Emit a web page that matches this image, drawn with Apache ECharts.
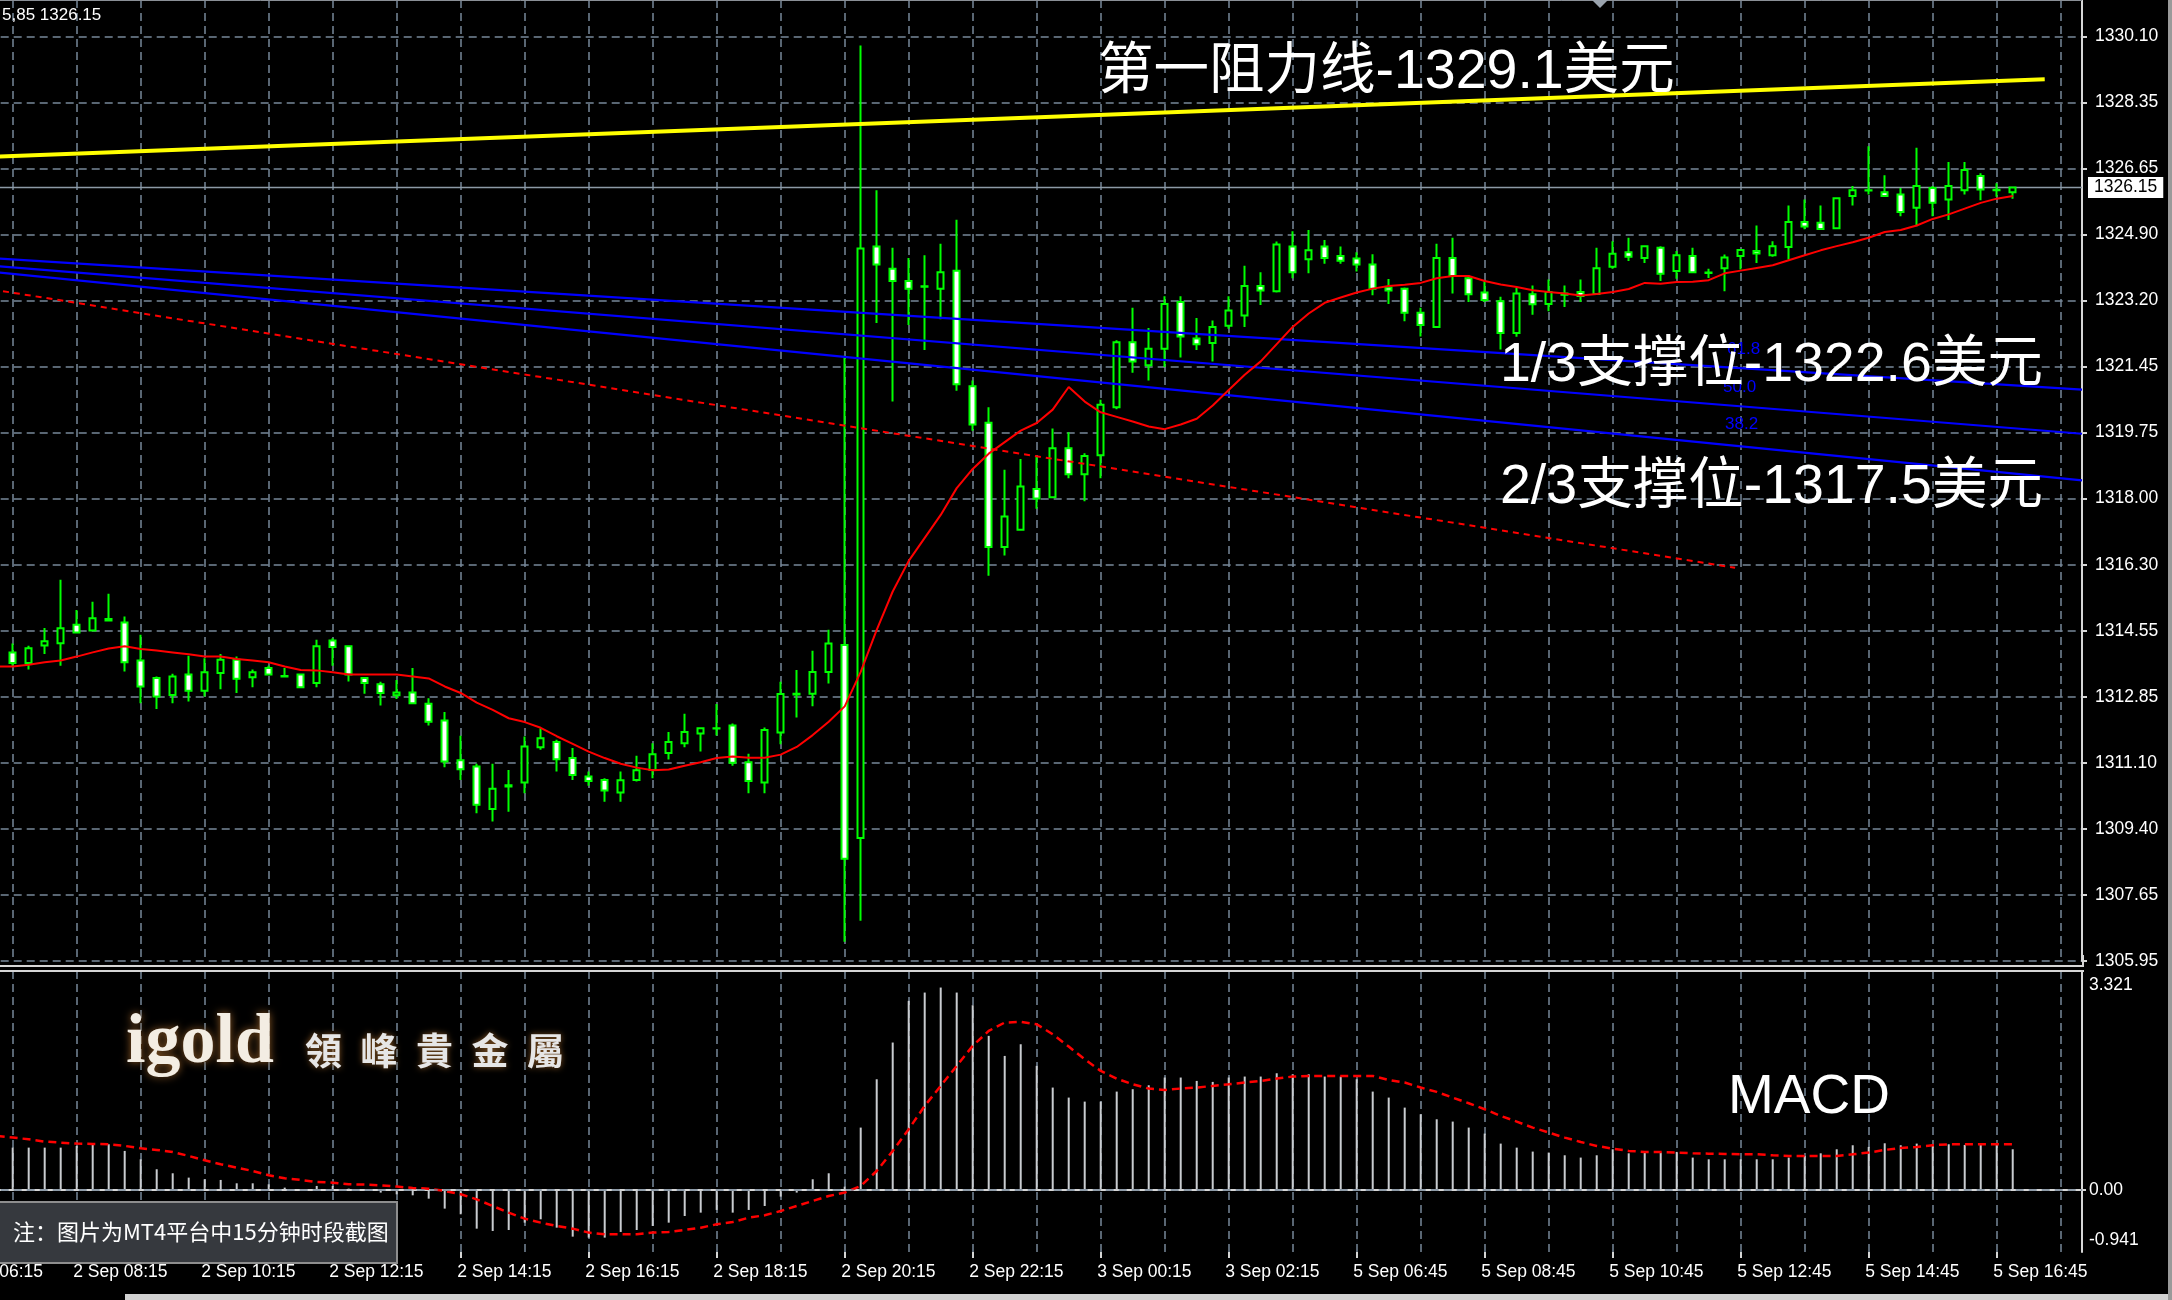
<!DOCTYPE html>
<html>
<head>
<meta charset="utf-8">
<script src="https://cdn.jsdelivr.net/npm/echarts@6/dist/echarts.min.js"></script>
<style>
html,body{margin:0;padding:0;background:#000;}
#chart{width:2172px;height:1300px;}
</style>
</head>
<body>
<div id="chart"></div>
<script>
// ---------------- DATA ----------------
// 15-minute bars, bar index 0 = 2 Sep 07:15
const opens = [1314.01,1313.73,1314.19,1314.25,1314.73,1314.58,1314.84,1314.79,1313.80,1313.34,
 1312.90,1313.43,1313.01,1313.47,1313.82,1313.36,1313.60,1313.39,1313.43,1313.21,
 1314.32,1314.17,1313.34,1313.18,1312.89,1312.96,1312.67,1312.23,1311.19,1311.03,
 1309.92,1310.51,1310.61,1311.53,1311.67,1311.25,1310.77,1310.68,1310.35,1310.68,
 1310.94,1311.38,1311.64,1311.89,1312.02,1312.10,1311.14,1310.61,1311.92,1312.91,
 1312.93,1313.50,1314.20,1309.16,1324.61,1324.03,1323.71,1323.56,1323.51,1323.98,
 1320.96,1320.01,1316.76,1317.21,1318.28,1318.06,1319.34,1318.66,1319.16,1320.41,
 1322.11,1321.51,1321.94,1323.16,1322.21,1322.09,1322.54,1322.81,1323.58,1323.44,
 1324.61,1324.28,1324.61,1324.36,1324.30,1324.14,1323.54,1323.51,1322.88,1322.51,
 1324.31,1323.78,1323.41,1323.18,1322.35,1323.36,1323.11,1323.35,1323.42,1323.37,
 1324.08,1324.46,1324.31,1324.58,1323.97,1324.36,1323.93,1324.04,1324.36,1324.49,
 1324.38,1324.60,1325.25,1325.23,1325.09,1325.93,1326.07,1326.03,1325.97,1325.62,
 1326.14,1325.84,1326.08,1326.45,1326.08,1326.03];
const closes = [1313.73,1314.12,1314.30,1314.64,1314.53,1314.90,1314.88,1313.75,1313.12,1312.86,
 1313.38,1313.01,1313.49,1313.82,1313.32,1313.49,1313.43,1313.38,1313.10,1314.17,
 1314.15,1313.43,1313.21,1312.95,1312.96,1312.68,1312.20,1311.16,1310.96,1310.03,
 1310.45,1310.54,1311.55,1311.77,1311.22,1310.81,1310.65,1310.40,1310.67,1310.93,
 1311.35,1311.67,1311.93,1312.03,1312.03,1311.13,1310.65,1311.98,1312.92,1312.93,
 1313.50,1314.24,1308.62,1324.56,1324.14,1323.71,1323.51,1323.57,1323.94,1321.01,
 1319.96,1316.76,1317.56,1318.34,1318.03,1319.34,1318.66,1319.14,1320.48,1322.11,
 1321.61,1321.94,1323.11,1322.26,1322.06,1322.51,1322.94,1323.58,1323.46,1324.66,
 1323.94,1324.51,1324.31,1324.24,1324.14,1323.51,1323.46,1322.88,1322.56,1324.31,
 1323.84,1323.36,1323.21,1322.35,1323.38,1323.10,1323.42,1323.38,1323.32,1324.04,
 1324.42,1324.34,1324.62,1323.90,1324.38,1323.94,1323.92,1324.32,1324.52,1324.43,
 1324.62,1325.25,1325.13,1325.07,1325.87,1326.08,1326.08,1325.93,1325.51,1326.19,
 1325.75,1326.19,1326.61,1326.10,1326.09,1326.15];
const lows = [1313.66,1313.56,1313.97,1313.66,1314.50,1314.56,1314.83,1313.51,1312.68,1312.53,
 1312.68,1312.73,1312.86,1313.05,1312.95,1313.10,1313.41,1313.36,1313.09,1313.10,
 1313.66,1313.25,1312.93,1312.62,1312.79,1312.66,1312.10,1311.01,1310.68,1309.81,
 1309.59,1309.85,1310.33,1311.47,1310.90,1310.68,1310.53,1310.11,1310.11,1310.64,
 1310.72,1311.21,1311.53,1311.42,1311.84,1311.05,1310.33,1310.33,1311.61,1312.31,
 1312.60,1313.20,1306.45,1307.00,1322.61,1320.56,1322.56,1321.91,1322.71,1320.84,
 1319.80,1316.01,1316.54,1317.21,1317.76,1318.06,1318.56,1317.96,1318.56,1320.36,
 1321.31,1321.11,1321.46,1321.71,1321.91,1321.61,1322.46,1322.51,1323.08,1323.41,
 1323.78,1323.91,1324.16,1324.16,1323.96,1323.34,1323.11,1322.66,1322.26,1322.51,
 1323.38,1323.16,1323.16,1321.92,1322.25,1322.83,1322.92,1323.03,1323.16,1323.36,
 1324.03,1324.23,1324.18,1323.71,1323.77,1323.91,1323.79,1323.44,1324.01,1324.18,
 1324.34,1324.27,1325.06,1325.04,1325.09,1325.68,1325.97,1325.91,1325.40,1325.14,
 1325.40,1325.30,1325.97,1325.82,1325.91,1325.86];
const highs = [1314.24,1314.18,1314.65,1315.91,1315.12,1315.33,1315.54,1314.95,1314.47,1313.38,
 1313.45,1313.92,1313.86,1313.97,1313.90,1313.56,1313.66,1313.60,1313.45,1314.34,
 1314.38,1314.18,1313.36,1313.24,1313.29,1313.60,1312.81,1312.45,1311.83,1311.10,
 1311.10,1310.94,1311.81,1312.03,1311.73,1311.51,1310.90,1310.72,1310.90,1311.31,
 1311.64,1311.93,1312.41,1312.05,1312.66,1312.15,1311.36,1312.05,1313.24,1313.55,
 1314.05,1314.60,1321.76,1329.86,1326.08,1324.58,1324.31,1324.38,1324.68,1325.31,
 1321.11,1320.41,1318.78,1319.06,1319.11,1319.86,1319.76,1319.21,1320.61,1322.16,
 1323.01,1322.48,1323.31,1323.31,1322.74,1322.68,1323.31,1324.11,1323.94,1324.74,
 1325.01,1325.04,1324.78,1324.61,1324.46,1324.41,1323.76,1323.54,1323.01,1324.68,
 1324.84,1323.86,1323.71,1323.30,1323.53,1323.59,1323.75,1323.59,1323.75,1324.58,
 1324.75,1324.84,1324.64,1324.62,1324.49,1324.58,1324.03,1324.40,1324.53,1325.16,
 1324.75,1325.68,1325.84,1325.68,1325.87,1326.19,1327.23,1326.47,1326.14,1327.19,
 1326.19,1326.82,1326.82,1326.52,1326.26,1326.17];

// moving average, starts at bar index -1
const maFirstIndex = -1;
const maValues = [1313.64,1313.64,1313.69,1313.75,1313.80,1313.90,1314.01,1314.11,1314.17,1314.10,
 1314.06,1314.01,1313.96,1313.90,1313.90,1313.84,1313.80,1313.75,1313.64,1313.55,
 1313.54,1313.49,1313.43,1313.43,1313.43,1313.43,1313.38,1313.33,1313.12,1312.95,
 1312.70,1312.51,1312.29,1312.19,1312.04,1311.82,1311.62,1311.42,1311.25,1311.10,
 1311.00,1310.93,1310.95,1311.05,1311.14,1311.25,1311.29,1311.26,1311.26,1311.34,
 1311.54,1311.85,1312.20,1312.60,1313.50,1314.60,1315.60,1316.40,1317.00,1317.60,
 1318.30,1318.80,1319.20,1319.50,1319.80,1320.00,1320.35,1320.94,1320.56,1320.28,
 1320.16,1320.04,1319.91,1319.84,1319.96,1320.11,1320.46,1320.86,1321.26,1321.61,
 1322.06,1322.51,1322.86,1323.14,1323.28,1323.41,1323.51,1323.58,1323.61,1323.66,
 1323.78,1323.84,1323.84,1323.71,1323.62,1323.55,1323.47,1323.42,1323.38,1323.33,
 1323.37,1323.42,1323.50,1323.66,1323.64,1323.68,1323.69,1323.73,1323.91,1323.98,
 1324.05,1324.12,1324.25,1324.38,1324.51,1324.62,1324.72,1324.84,1324.99,1325.04,
 1325.16,1325.33,1325.45,1325.60,1325.75,1325.86,1325.93];

// MACD histogram (bar index 0..125) and signal (bar index -1..125)
const macdHist = [0.642,0.642,0.642,0.642,0.668,0.693,0.693,0.592,0.465,0.314,
 0.253,0.187,0.162,0.152,0.101,0.101,0.086,0.035,0.010,0.061,
 0.061,0.020,-0.015,-0.040,-0.066,-0.081,-0.132,-0.283,-0.369,-0.587,
 -0.622,-0.607,-0.496,-0.445,-0.572,-0.708,-0.723,-0.723,-0.637,-0.607,
 -0.546,-0.496,-0.395,-0.344,-0.303,-0.344,-0.303,-0.243,-0.101,-0.040,
 0.162,0.253,0.050,0.946,1.679,2.236,2.868,2.994,3.070,2.994,
 2.802,2.337,2.033,2.210,1.882,1.553,1.401,1.340,1.340,1.492,
 1.528,1.588,1.705,1.705,1.654,1.639,1.705,1.720,1.720,1.770,
 1.755,1.755,1.720,1.720,1.679,1.492,1.401,1.249,1.148,1.072,
 1.037,0.946,0.855,0.703,0.642,0.582,0.567,0.526,0.491,0.526,
 0.617,0.556,0.577,0.567,0.577,0.491,0.465,0.465,0.465,0.465,
 0.465,0.491,0.516,0.556,0.617,0.678,0.653,0.708,0.678,0.703,
 0.693,0.693,0.683,0.693,0.703,0.617];
const signalFirstIndex = -1;
const macdSignal = [0.819,0.794,0.769,0.733,0.718,0.703,0.698,0.693,0.668,0.632,
 0.607,0.577,0.516,0.450,0.389,0.339,0.288,0.223,0.177,0.152,
 0.121,0.111,0.086,0.081,0.071,0.051,0.030,0.020,-0.015,-0.066,
 -0.142,-0.243,-0.344,-0.435,-0.496,-0.546,-0.587,-0.647,-0.673,-0.673,
 -0.673,-0.647,-0.637,-0.607,-0.572,-0.521,-0.486,-0.420,-0.384,-0.319,
 -0.243,-0.167,-0.091,-0.040,0.061,0.288,0.592,0.921,1.275,1.578,
 1.882,2.185,2.413,2.539,2.549,2.514,2.362,2.175,1.983,1.806,
 1.689,1.603,1.538,1.517,1.538,1.553,1.578,1.603,1.629,1.654,
 1.689,1.720,1.730,1.730,1.730,1.730,1.730,1.669,1.629,1.553,
 1.487,1.401,1.315,1.224,1.123,1.037,0.946,0.870,0.794,0.728,
 0.668,0.627,0.592,0.577,0.577,0.567,0.556,0.551,0.546,0.541,
 0.541,0.526,0.516,0.516,0.516,0.516,0.541,0.567,0.607,0.637,
 0.653,0.678,0.693,0.693,0.693,0.693,0.693];

// drawn objects: [barIndex, price]
const resistanceLine = [[-4, 1326.91], [127, 1328.98]];
const fanLine618 = [[-4, 1324.38], [129.33, 1320.87]];
const fanLine500 = [[-4, 1324.20], [129.33, 1319.72]];
const fanLine382 = [[-4, 1324.06], [129.33, 1318.50]];
const fanBaseLine = [[-4, 1323.67], [107.65, 1316.22]];
const currentPrice = 1326.15;

// axes
const xTickLabels = ['2 Sep 06:15','2 Sep 08:15','2 Sep 10:15','2 Sep 12:15','2 Sep 14:15','2 Sep 16:15',
 '2 Sep 18:15','2 Sep 20:15','2 Sep 22:15','3 Sep 00:15','3 Sep 02:15','5 Sep 06:45','5 Sep 08:45',
 '5 Sep 10:45','5 Sep 12:45','5 Sep 14:45','5 Sep 16:45'];
const xTickFirstIndex = -4, xTickEvery = 8;
const priceTickMin = 1305.95, priceTickStep = 1.725;
const macdAxisValues = [-0.941, 0, 3.321];

// ---------------- CHART ----------------
const FONT = '"Liberation Sans", "DejaVu Sans", sans-serif';
const CJKFONT = '"Liberation Sans", "Noto Sans CJK SC", sans-serif';
const GRIDC = '#778899';
const AXISC = '#d6d6d6';

const X_MIN = -4, X_MAX = 129.33;
const candleData = opens.map((o, i) => [i, o, closes[i], lows[i], highs[i]]);
const maData = maValues.map((v, k) => [k + maFirstIndex, v]);
const histData = macdHist.map((v, i) => [i, v]);
const sigData = macdSignal.map((v, k) => [k + signalFirstIndex, v]);
const xTickPos = xTickLabels.map((_, k) => xTickFirstIndex + k * xTickEvery);
const xLabelPos = xTickPos.map((p, k) => k === 0 ? p : p - 0.22);

const chart = echarts.init(document.getElementById('chart'), null, {renderer: 'canvas', width: 2172, height: 1300});

const dashed = {color: GRIDC, width: 1.5, type: [8, 5]};

function lineSeries(data, color, width, type, z) {
  return {type: 'line', xAxisIndex: 0, yAxisIndex: 0, data: data, symbol: 'none', showSymbol: false,
    silent: true, z: z || 5, lineStyle: {color: color, width: width, type: type || 'solid'}, animation: false};
}

const option = {
  backgroundColor: '#000000',
  animation: false,
  grid: [
    {left: -51.3, right: 90, top: 0, height: 961, containLabel: false, outerBoundsMode: 'none'},
    {left: -51.3, right: 90, top: 971, height: 281, containLabel: false, outerBoundsMode: 'none'}
  ],
  xAxis: [
    {type: 'value', gridIndex: 0, min: X_MIN, max: X_MAX, interval: 4,
      axisLine: {show: false}, axisTick: {show: false}, axisLabel: {show: false},
      splitLine: {show: true, lineStyle: dashed}},
    {type: 'value', gridIndex: 1, min: X_MIN, max: X_MAX, interval: 4,
      axisLine: {show: true, lineStyle: {color: AXISC, width: 2}}, axisTick: {show: false}, axisLabel: {show: false},
      splitLine: {show: true, lineStyle: dashed}},
    {type: 'value', gridIndex: 1, min: X_MIN, max: X_MAX, position: 'bottom',
      axisLine: {show: false}, splitLine: {show: false},
      axisTick: {show: true, length: 6, customValues: xTickPos, lineStyle: {color: AXISC, width: 2}},
      axisLabel: {show: true, customValues: xLabelPos, align: 'left', margin: 11, color: '#ffffff',
        fontFamily: FONT, fontSize: 17.5, hideOverlap: false,
        formatter: function (v) {
          const k = Math.round((v - xTickFirstIndex) / xTickEvery);
          return xTickLabels[k] || '';
        }}}
  ],
  yAxis: [
    {type: 'value', gridIndex: 0, position: 'right', min: priceTickMin, max: priceTickMin + 961 / 38.29,
      interval: priceTickStep, scale: true,
      axisLine: {show: true, onZero: false, lineStyle: {color: AXISC, width: 2}},
      axisTick: {show: true, length: 5, lineStyle: {color: AXISC, width: 2}},
      splitLine: {show: true, lineStyle: dashed},
      axisLabel: {show: true, showMaxLabel: false, showMinLabel: true, margin: 13, color: '#ffffff',
        fontFamily: FONT, fontSize: 17.5, align: 'left', hideOverlap: false,
        formatter: function (v) { return (Math.floor(v * 20 + 1e-6) / 20).toFixed(2); }}},
    {type: 'value', gridIndex: 1, position: 'right', min: macdAxisValues[0], max: macdAxisValues[2],
      axisLine: {show: true, onZero: false, lineStyle: {color: AXISC, width: 2}},
      axisTick: {show: true, length: 4, customValues: [0], lineStyle: {color: AXISC, width: 2}},
      splitLine: {show: false},
      axisLabel: {show: true, customValues: macdAxisValues, margin: 7, color: '#ffffff', align: 'left',
        fontFamily: FONT, fontSize: 17.5, hideOverlap: false,
        formatter: function (v) {
          if (v === macdAxisValues[2]) return '{t|' + v.toFixed(3) + '}';
          if (v === macdAxisValues[0]) return '{b|' + v.toFixed(3) + '}';
          return v.toFixed(2);
        },
        rich: {
          t: {color: '#ffffff', fontFamily: FONT, fontSize: 17.5, padding: [28, 0, 0, 0]},
          b: {color: '#ffffff', fontFamily: FONT, fontSize: 17.5, padding: [0, 0, 24, 0]}
        }}}
  ],
  series: [
    {type: 'candlestick', name: 'XAUUSD', xAxisIndex: 0, yAxisIndex: 0, data: candleData,
      encode: {x: 0, y: [1, 2, 3, 4]}, barWidth: 7, z: 3, silent: true,
      itemStyle: {color: '#000000', color0: '#ffffff', borderColor: '#00ff00', borderColor0: '#00ff00',
        borderColorDoji: '#00ff00', borderWidth: 2},
      markLine: {symbol: ['none', 'none'], silent: true, animation: false, z: 2,
        lineStyle: {color: '#8d9aa6', width: 1.4, type: 'solid'},
        label: {show: true, position: 'end', distance: 6, formatter: currentPrice.toFixed(2),
          backgroundColor: '#ffffff', color: '#000000', padding: [2, 6, 1, 6],
          fontFamily: FONT, fontSize: 17.5},
        data: [{yAxis: currentPrice}]}},
    lineSeries(maData, '#ff0000', 2, 'solid', 6),
    lineSeries(fanBaseLine, '#ff0000', 2, [6, 5], 4),
    lineSeries(fanLine618, '#0000ff', 2.2, 'solid', 4),
    lineSeries(fanLine500, '#0000ff', 2.2, 'solid', 4),
    lineSeries(fanLine382, '#0000ff', 2.2, 'solid', 4),
    lineSeries(resistanceLine, '#ffff00', 4, 'solid', 7),
    {type: 'bar', xAxisIndex: 1, yAxisIndex: 1, data: histData, barWidth: 2, silent: true, z: 3,
      itemStyle: {color: '#c9ccd0'},
      markLine: {symbol: ['none', 'none'], silent: true, animation: false, label: {show: false},
        lineStyle: {color: GRIDC, width: 1.5, type: [8, 5]}, data: [{yAxis: 0}]}},
    {type: 'line', xAxisIndex: 1, yAxisIndex: 1, data: sigData, symbol: 'none', showSymbol: false, silent: true, z: 4,
      lineStyle: {color: '#ff0000', width: 2.5, type: [8, 5]}}
  ],
  graphic: [
    {type: 'line', z: 50, shape: {x1: 0, y1: 0.5, x2: 2082, y2: 0.5}, style: {stroke: '#8a8f96', lineWidth: 1}},
    {type: 'line', z: 50, shape: {x1: 0, y1: 966, x2: 2084, y2: 966}, style: {stroke: AXISC, lineWidth: 2}},
    {type: 'line', z: 50, shape: {x1: 0, y1: 971, x2: 2084, y2: 971}, style: {stroke: AXISC, lineWidth: 2}},
    {type: 'line', z: 50, shape: {x1: 2083, y1: 955, x2: 2083, y2: 966}, style: {stroke: AXISC, lineWidth: 2}},
    {type: 'rect', z: 50, shape: {x: 125, y: 1294, width: 2047, height: 6}, style: {fill: '#d2d2d2'}},
    {type: 'rect', z: 50, shape: {x: 2168, y: 0, width: 4, height: 1300}, style: {fill: '#9a9a9a'}},
    {type: 'polygon', z: 50, shape: {points: [[1592, 0], [1608, 0], [1600, 8]]}, style: {fill: '#9aa3ad'}},
    {type: 'text', z: 60, x: 2, y: 15, style: {text: '5,85 1326.15', fill: '#ffffff', font: '17px ' + FONT, verticalAlign: 'middle'}},
    // fibonacci level labels
    {type: 'text', z: 55, x: 1727, y: 349, style: {text: '61.8', fill: '#0000ff', font: '17px ' + FONT, verticalAlign: 'middle'}},
    {type: 'text', z: 55, x: 1723, y: 387, style: {text: '50.0', fill: '#0000ff', font: '17px ' + FONT, verticalAlign: 'middle'}},
    {type: 'text', z: 55, x: 1725, y: 424, style: {text: '38.2', fill: '#0000ff', font: '17px ' + FONT, verticalAlign: 'middle'}},
    // annotations
    {type: 'text', z: 70, x: 1098, y: 73, style: {text: '第一阻力线-1329.1美元', fill: '#ffffff', font: '55.5px ' + CJKFONT, verticalAlign: 'middle'}},
    {type: 'text', z: 70, x: 1500, y: 366, style: {text: '1/3支撑位-1322.6美元', fill: '#ffffff', font: '55.5px ' + CJKFONT, verticalAlign: 'middle'}},
    {type: 'text', z: 70, x: 1500, y: 488, style: {text: '2/3支撑位-1317.5美元', fill: '#ffffff', font: '55.5px ' + CJKFONT, verticalAlign: 'middle'}},
    {type: 'text', z: 70, x: 1728, y: 1098, style: {text: 'MACD', fill: '#ffffff', font: '55px ' + FONT, verticalAlign: 'middle'}},
    // logo
    {type: 'text', z: 70, x: 126, y: 1044, style: {text: 'igold', fill: '#f3ede3', font: 'bold 70px "Liberation Serif", serif',
      verticalAlign: 'middle', textShadowColor: 'rgba(150,95,40,0.95)', textShadowBlur: 8}},
    {type: 'text', z: 70, x: 305, y: 1051, style: {text: '領\u2002峰\u2002貴\u2002金\u2002屬', fill: '#e6e6e6',
      font: 'bold 37px "Noto Sans CJK TC", sans-serif', verticalAlign: 'middle',
      textShadowColor: 'rgba(150,95,40,0.9)', textShadowBlur: 6}},
    // note box
    {type: 'rect', z: 80, shape: {x: -2, y: 1202, width: 399, height: 61}, style: {fill: '#36393e', stroke: '#8e8e8e', lineWidth: 2}},
    {type: 'text', z: 81, x: 13, y: 1232, style: {text: '注：图片为MT4平台中15分钟时段截图', fill: '#ffffff',
      font: '22px "Noto Sans CJK SC", sans-serif', verticalAlign: 'middle'}}
  ]
};
chart.setOption(option);
</script>
</body>
</html>
